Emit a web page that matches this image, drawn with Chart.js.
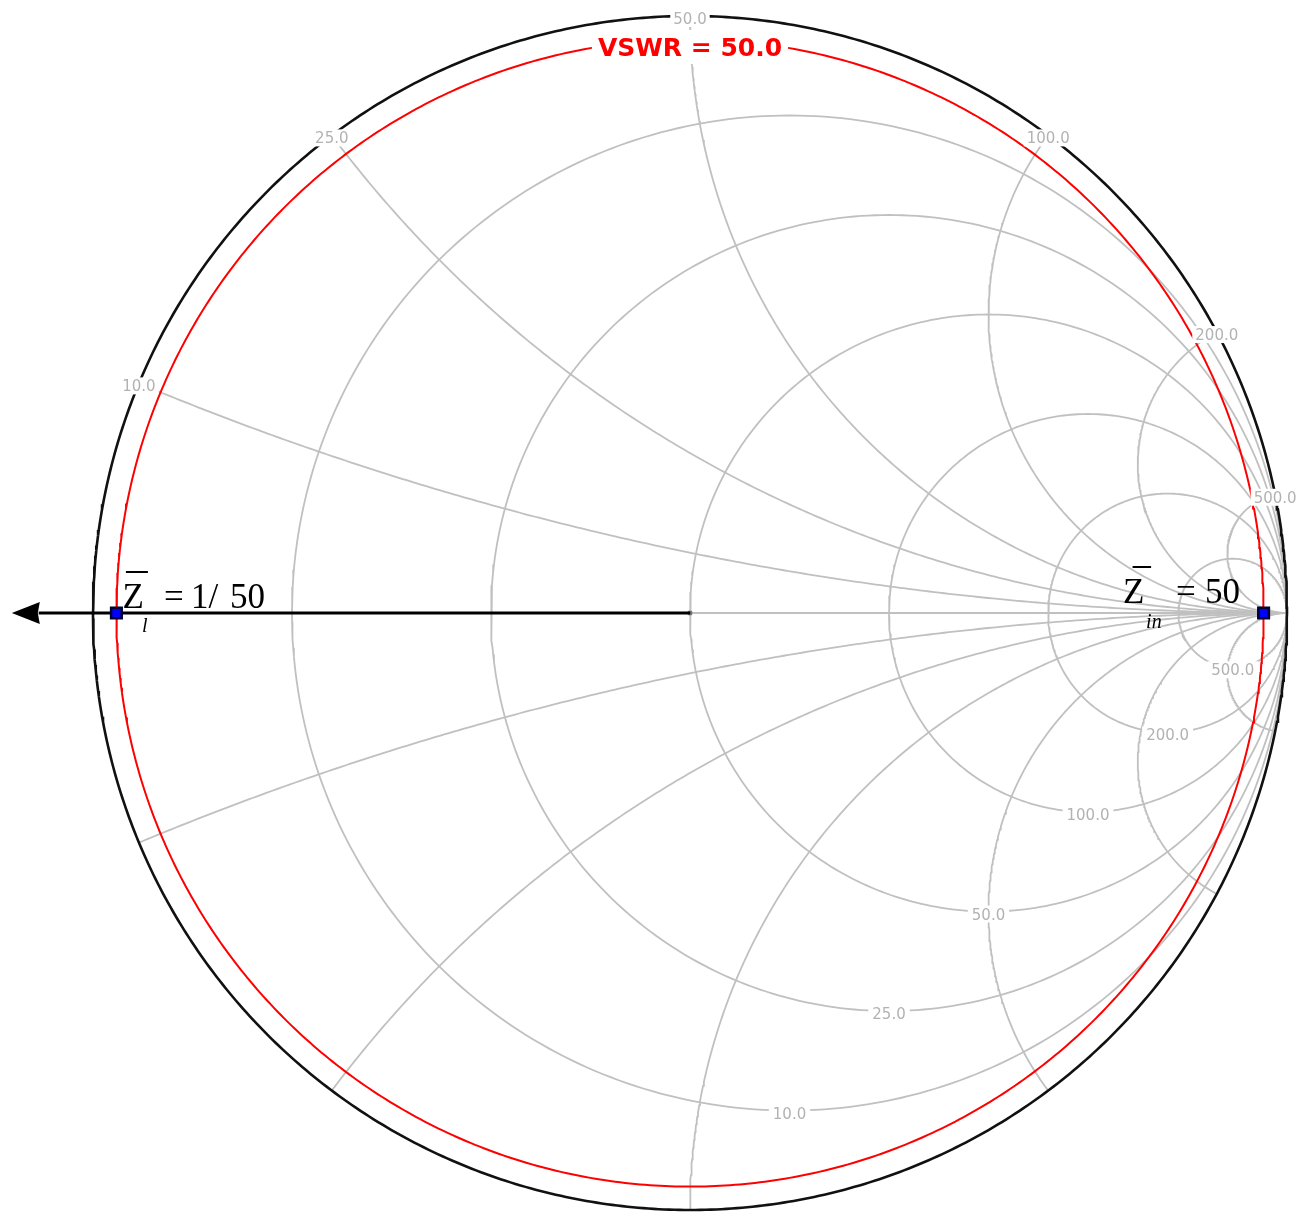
<!DOCTYPE html>
<html>
<head>
<meta charset="utf-8">
<script src="https://cdn.jsdelivr.net/npm/chart.js@4.4.1/dist/chart.umd.min.js"></script>
<style>
  html, body { margin: 0; padding: 0; background: #ffffff; overflow: hidden; }
  #smith { display: block; }
</style>
</head>
<body>
<canvas id="smith" width="1297" height="1213"></canvas>
<script>
// Characteristic impedance of the line (ohms)
const Z0 = 50;
// Constant-resistance circles, normalised r
const resistanceValues = [0.2, 0.5, 1, 2, 4, 10];
// Constant-reactance arcs, normalised x (drawn for +x and -x)
const reactanceValues = [0.2, 0.5, 1, 2, 4, 10];
// Tick labels in ohms
const resistanceLabels = ['10.0', '25.0', '50.0', '100.0', '200.0', '500.0'];
const reactanceLabels = ['10.0', '25.0', '50.0', '100.0', '200.0', '500.0'];
// Standing wave ratio on the line
const vswr = 50;
const vswrLabel = 'VSWR = 50.0';
// Normalised load and input impedances
const impedanceSubscripts = ['l', 'in'];
const impedanceValues = [1 / 50, 50];
const impedanceTexts = ['1/50', '50'];
// How far the wavelength-direction arrow reaches, in reflection-coefficient units
const arrowReach = 1.136;

// Layout of the chart on the canvas
const UNIT_PX = 597;
const CENTER_X = 690, CENTER_Y = 613;
const W = 1297, H = 1213;

const GRID = 'rgb(192,192,192)';
const LABEL = 'rgb(178,178,178)';

// reflection coefficient for a normalised impedance r + jx
function gammaOf(r, x) {
  const den = (r + 1) * (r + 1) + x * x;
  return { x: (r * r - 1 + x * x) / den, y: (2 * x) / den };
}

function arcPoints(cx, cy, rad, a0, a1, n) {
  const pts = [];
  for (let i = 0; i <= n; i++) {
    const a = a0 + (a1 - a0) * i / n;
    pts.push({ x: cx + rad * Math.cos(a), y: cy + rad * Math.sin(a) });
  }
  return pts;
}

function lineSet(points, color, width, order) {
  return {
    data: points, showLine: true, borderColor: color, borderWidth: width,
    pointRadius: 0, fill: false, tension: 0, order: order
  };
}

const datasets = [];

// constant-resistance circles
resistanceValues.forEach(r => {
  const c = r / (1 + r), rad = 1 / (1 + r);
  datasets.push(lineSet(arcPoints(c, 0, rad, 0, 2 * Math.PI, 360), GRID, 1.8, 5));
});

// constant-reactance arcs (inside the unit circle only)
reactanceValues.forEach(xv => {
  let a0 = Math.atan2((xv * xv - 1) / xv, -2);
  if (a0 < 0) a0 += 2 * Math.PI;
  const upper = arcPoints(1, 1 / xv, 1 / xv, a0, 1.5 * Math.PI, 240);
  const lower = upper.map(p => ({ x: p.x, y: -p.y }));
  datasets.push(lineSet(upper, GRID, 1.8, 5));
  datasets.push(lineSet(lower, GRID, 1.8, 5));
});

// real axis
datasets.push(lineSet([{ x: -1, y: 0 }, { x: 1, y: 0 }], GRID, 2, 5));

// constant-VSWR circle
const gammaMag = (vswr - 1) / (vswr + 1);
datasets.push(lineSet(arcPoints(0, 0, gammaMag, 0, 2 * Math.PI, 720), '#ff0000', 2, 3));

// outer |Gamma| = 1 circle
datasets.push(lineSet(arcPoints(0, 0, 1, 0, 2 * Math.PI, 720), '#111111', 2.6, 2));

// arrow from the centre toward the load
datasets.push(lineSet([{ x: 0, y: 0 }, { x: -arrowReach + 0.045, y: 0 }], '#000000', 3, 1));

// centre marker
datasets.push({
  data: [{ x: 0, y: 0 }], pointStyle: 'rect', pointRadius: 2.5,
  pointBackgroundColor: '#555555', pointBorderColor: '#777777', pointBorderWidth: 1, order: 1
});

// load and input impedance points
const impedancePoints = impedanceValues.map(z => gammaOf(z, 0));
datasets.push({
  data: impedancePoints, pointStyle: 'rect', pointRadius: 7.5,
  pointBackgroundColor: '#0000ff', pointBorderColor: '#000033', pointBorderWidth: 2.5, order: 0
});

function boxedText(ctx, text, cx, baseline, capH, padX, padY) {
  const w = ctx.measureText(text).width;
  ctx.save();
  ctx.fillStyle = '#ffffff';
  ctx.fillRect(cx - w / 2 - padX, baseline - capH - padY, w + 2 * padX, capH + 2 * padY);
  ctx.restore();
  ctx.fillText(text, cx, baseline);
}

const overlayPlugin = {
  id: 'smithOverlay',
  afterDatasetsDraw(chart) {
    const ctx = chart.ctx;
    const sx = chart.scales.x, sy = chart.scales.y;
    const px = g => [sx.getPixelForValue(g.x), sy.getPixelForValue(g.y)];
    ctx.save();

    // arrow head
    const tip = px({ x: -arrowReach, y: 0 });
    ctx.fillStyle = '#000000';
    ctx.beginPath();
    ctx.moveTo(tip[0], tip[1]);
    ctx.lineTo(tip[0] + 28, tip[1] - 11);
    ctx.lineTo(tip[0] + 26, tip[1]);
    ctx.lineTo(tip[0] + 28, tip[1] + 11);
    ctx.closePath();
    ctx.fill();

    // grid labels
    ctx.font = '15px "DejaVu Sans"';
    ctx.fillStyle = LABEL;
    ctx.textAlign = 'center';
    ctx.textBaseline = 'alphabetic';
    reactanceValues.forEach((xv, i) => {
      const g = { x: (xv * xv - 1) / (xv * xv + 1), y: 2 * xv / (xv * xv + 1) };
      const p = px(g);
      boxedText(ctx, reactanceLabels[i], p[0], p[1] + 8, 11, 3, 3);
    });
    resistanceValues.forEach((r, i) => {
      const p = px({ x: r / (1 + r), y: -1 / (1 + r) });
      boxedText(ctx, resistanceLabels[i], p[0], p[1] + 8, 11, 4, 3);
    });

    // VSWR label on top of its circle
    ctx.font = 'bold 25px "DejaVu Sans"';
    ctx.fillStyle = '#ff0000';
    const top = px({ x: 0, y: gammaMag });
    boxedText(ctx, vswrLabel, top[0], top[1] + 16.6, 18, 6, 8);

    ctx.restore();
  },
  afterDraw(chart) {
    const ctx = chart.ctx;
    const sx = chart.scales.x, sy = chart.scales.y;
    const pts = impedancePoints.map(g => [sx.getPixelForValue(g.x), sy.getPixelForValue(g.y)]);
    ctx.save();
    ctx.fillStyle = '#000000';
    ctx.strokeStyle = '#000000';
    ctx.textAlign = 'left';
    ctx.textBaseline = 'alphabetic';
    ctx.lineWidth = 2;

    // load impedance, to the right of its point
    let [x0, y0] = pts[0];
    ctx.font = '35px "Liberation Serif"';
    ctx.fillText('Z', x0 + 6, y0 - 5);
    ctx.beginPath(); ctx.moveTo(x0 + 9.5, y0 - 41); ctx.lineTo(x0 + 31.5, y0 - 41); ctx.stroke();
    ctx.fillText('=', x0 + 47.5, y0 - 5);
    ctx.fillText(impedanceTexts[0].slice(0, 2), x0 + 74.5, y0 - 5);
    ctx.fillText(impedanceTexts[0].slice(2), x0 + 113.5, y0 - 5);
    ctx.font = 'italic 20px "Liberation Serif"';
    ctx.fillText(impedanceSubscripts[0], x0 + 25.5, y0 + 19);

    // input impedance, to the left of its point
    let [x1, y1] = pts[1];
    ctx.font = '35px "Liberation Serif"';
    ctx.fillText('Z', x1 - 140.5, y1 - 10);
    ctx.beginPath(); ctx.moveTo(x1 - 131, y1 - 46); ctx.lineTo(x1 - 112.5, y1 - 46); ctx.stroke();
    ctx.fillText('=', x1 - 87.5, y1 - 10);
    ctx.fillText(impedanceTexts[1], x1 - 58.5, y1 - 10);
    ctx.font = 'italic 20px "Liberation Serif"';
    ctx.fillText(impedanceSubscripts[1], x1 - 117.5, y1 + 15);

    ctx.restore();
  }
};

new Chart(document.getElementById('smith'), {
  type: 'scatter',
  data: { datasets: datasets },
  options: {
    responsive: false,
    maintainAspectRatio: false,
    devicePixelRatio: 1,
    animation: false,
    events: [],
    layout: { padding: 0, autoPadding: false },
    plugins: { legend: { display: false }, tooltip: { enabled: false } },
    scales: {
      x: { type: 'linear', display: false, min: -CENTER_X / UNIT_PX, max: (W - CENTER_X) / UNIT_PX },
      y: { type: 'linear', display: false, min: -(H - CENTER_Y) / UNIT_PX, max: CENTER_Y / UNIT_PX }
    }
  },
  plugins: [overlayPlugin]
});
</script>
</body>
</html>
